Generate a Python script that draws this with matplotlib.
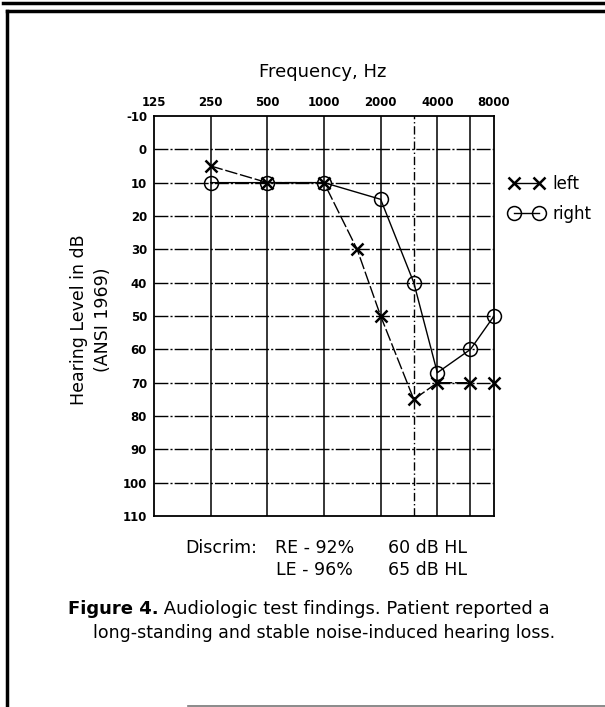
import numpy as np
import matplotlib
matplotlib.use("Agg")
import matplotlib.pyplot as plt
from matplotlib.lines import Line2D

plt.rcParams['font.family'] = ['DejaVu Sans']
plt.rcParams['axes.unicode_minus'] = False

# audiogram data (dB HL)
freq_ticks = [125, 250, 500, 1000, 2000, 4000, 8000]
freq_labels = ['125', '250', '500', '1000', '2000', '4000', '8000']
db_ticks = list(range(-10, 111, 10))

left_freq = [250, 500, 1000, 1500, 2000, 3000, 4000, 6000, 8000]
left_db = [5, 10, 10, 30, 50, 75, 70, 70, 70]

right_freq = [250, 500, 1000, 2000, 3000, 4000, 6000, 8000]
right_db = [10, 10, 10, 15, 40, 67, 60, 50]

fig = plt.figure(figsize=(6.05, 7.07), dpi=100)

# page frame from the scan
fig.add_artist(Line2D([0.005, 1.0], [0.996, 0.996], color='black', lw=2.5, transform=fig.transFigure))
fig.add_artist(Line2D([0.011, 1.0], [0.985, 0.985], color='black', lw=2.5, transform=fig.transFigure))
fig.add_artist(Line2D([0.012, 0.012], [0.0, 0.985], color='black', lw=2.5, transform=fig.transFigure))
fig.add_artist(Line2D([0.31, 1.0], [0.002, 0.002], color='#777777', lw=1.2, transform=fig.transFigure))

ax = fig.add_axes([0.2545, 0.270, 0.562, 0.566])
ax.set_xscale('log', base=2)
ax.set_xlim(125, 8000)
ax.set_ylim(110, -10)

# grid
for f in [250, 500, 1000, 2000, 4000, 6000]:
    ax.axvline(f, color='black', lw=1.1, zorder=1)
ax.axvline(3000, color='black', lw=1.0, ls=(0, (6, 2, 1, 2)), zorder=1)
for d in db_ticks[1:-1]:
    ax.axhline(d, color='black', lw=1.0, ls=(0, (10, 1.5, 1.5, 1.5)), zorder=1)

# right ear: circles, solid line
ax.plot(right_freq, right_db, color='black', lw=1.0, zorder=2)
ax.plot(right_freq, right_db, ls='none', marker='o', ms=10, mfc='none', mec='black',
        mew=1.1, zorder=3, clip_on=False)

# left ear: crosses, dashed line (8000 Hz not joined)
ax.plot(left_freq[:-1], left_db[:-1], color='black', lw=1.0, ls=(0, (9, 2)), zorder=2)
ax.plot(left_freq, left_db, ls='none', marker='x', ms=8, mec='black', mew=1.8,
        zorder=3, clip_on=False)

ax.xaxis.tick_top()
ax.set_xticks(freq_ticks)
ax.set_xticklabels(freq_labels)
ax.xaxis.set_minor_locator(matplotlib.ticker.NullLocator())
ax.set_yticks(db_ticks)
ax.set_yticklabels([str(d) for d in db_ticks])
ax.tick_params(axis='both', length=0, labelsize=8.5, pad=5)
for lab in ax.get_xticklabels() + ax.get_yticklabels():
    lab.set_fontweight('bold')
for sp in ax.spines.values():
    sp.set_linewidth(1.3)

ax.set_title('Frequency, Hz', fontsize=13, pad=28, x=0.495)
ax.set_ylabel('Hearing Level in dB\n(ANSI 1969)', fontsize=12.5, linespacing=1.45)
ax.yaxis.set_label_coords(-0.122, 0.49)

handles = [Line2D([], [], color='black', lw=1, marker='x', ms=8, mew=1.8),
           Line2D([], [], color='black', lw=1, marker='o', ms=10, mfc='none', mew=1.1)]
ax.legend(handles, ['left', 'right'], numpoints=2, frameon=False, fontsize=12,
          loc='upper left', bbox_to_anchor=(1.0, 0.89), handlelength=2.1,
          handletextpad=0.5, labelspacing=0.7)

fig.text(0.307, 0.218, 'Discrim:', fontsize=12.5, ha='left', va='baseline')
fig.text(0.454, 0.218, 'RE - 92%', fontsize=12.5, ha='left', va='baseline')
fig.text(0.641, 0.218, '60 dB HL', fontsize=12.5, ha='left', va='baseline')
fig.text(0.456, 0.187, 'LE - 96%', fontsize=12.5, ha='left', va='baseline')
fig.text(0.641, 0.187, '65 dB HL', fontsize=12.5, ha='left', va='baseline')

t = fig.text(0.112, 0.132, 'Figure 4.', fontsize=13, fontweight='bold', ha='left', va='baseline')
ax.annotate(' Audiologic test findings. Patient reported a', xy=(1, 0), xycoords=t,
            fontsize=13, ha='left', va='bottom', annotation_clip=False)
fig.text(0.536, 0.098, 'long-standing and stable noise-induced hearing loss.', fontsize=12.5,
         ha='center', va='baseline')

fig.savefig('out.png', dpi=100)
